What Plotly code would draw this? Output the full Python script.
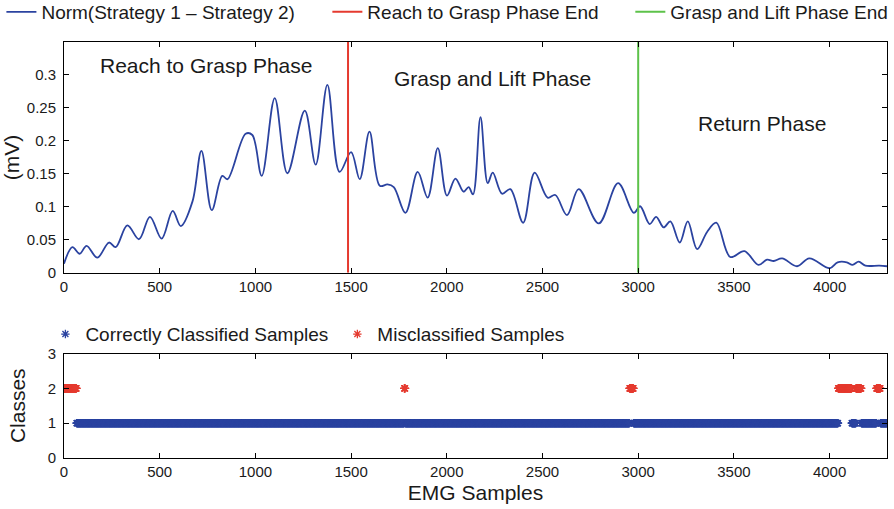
import numpy as np
import plotly.graph_objects as go

# --- data ------------------------------------------------------------------
# norm of the strategy difference (mV), peaks / troughs of the smooth curve
sample_idx = [
    0, 44, 82, 118, 174, 235, 270, 331, 392, 449, 510, 568, 610, 671, 718,
    772, 827, 854, 949, 984, 1033, 1101, 1167, 1258, 1315, 1376, 1440, 1500,
    1545, 1596, 1650, 1690, 1723, 1784, 1848, 1900, 1953, 2001, 2045, 2088,
    2114, 2137, 2176, 2214, 2240, 2289, 2332, 2399, 2459, 2527, 2567, 2628,
    2689, 2794, 2895, 2977, 3010, 3060, 3094, 3133, 3168, 3217, 3259, 3308,
    3360, 3408, 3481, 3555, 3629, 3673, 3708, 3752, 3830, 3894, 4000, 4042,
    4090, 4120, 4152, 4187, 4260, 4300,
]
norm_mv = [
    0.014, 0.039, 0.029, 0.041, 0.023, 0.046, 0.039, 0.072, 0.051, 0.085,
    0.052, 0.094, 0.071, 0.108, 0.185, 0.095, 0.147, 0.142, 0.211, 0.209,
    0.147, 0.265, 0.151, 0.246, 0.164, 0.285, 0.153, 0.183, 0.142, 0.214,
    0.132, 0.134, 0.130, 0.091, 0.153, 0.114, 0.189, 0.117, 0.143, 0.123,
    0.130, 0.119, 0.236, 0.136, 0.152, 0.120, 0.127, 0.076, 0.152, 0.114,
    0.118, 0.0875, 0.127, 0.075, 0.136, 0.091, 0.101, 0.074, 0.085, 0.069,
    0.078, 0.046, 0.078, 0.036, 0.062, 0.076, 0.024, 0.033, 0.012, 0.020,
    0.018, 0.022, 0.010, 0.022, 0.007, 0.016, 0.016, 0.012, 0.017, 0.011,
    0.011, 0.010,
]
reach_end = 1484
lift_end = 3000

n_samples = 4300
correct_class = 1
wrong_class = 2
# sample ranges that were misclassified
misclassified_ranges = [
    (0, 65), (1778, 1782), (2955, 2975), (4045, 4115), (4138, 4165), (4245, 4265),
]

phase_labels = ["Reach to Grasp Phase", "Grasp and Lift Phase", "Return Phase"]
phase_x = [740, 2241, 3649]
phase_y = [0.314, 0.295, 0.226]

x_ticks = [0, 500, 1000, 1500, 2000, 2500, 3000, 3500, 4000]
mv_ticks = [0, 0.05, 0.1, 0.15, 0.2, 0.25, 0.3]
class_ticks = [0, 1, 2, 3]

# --- styling ---------------------------------------------------------------
BLUE = "#2b43a0"
RED = "#e53a2f"
GREEN = "#5dc24a"
FONT = "Liberation Sans, Arial, Helvetica, sans-serif"
INK = "#1a1a1a"

samples = np.arange(n_samples + 1)
wrong = np.zeros(samples.size, dtype=bool)
for start, stop in misclassified_ranges:
    wrong[(samples >= start) & (samples <= stop)] = True

fig = go.Figure()
fig.add_trace(go.Scatter(
    x=sample_idx, y=norm_mv, mode="lines", line=dict(color=BLUE, width=1.8, shape="spline", smoothing=1.0),
    name="Norm(Strategy 1 \u2013 Strategy 2)", legend="legend",
))
fig.add_trace(go.Scatter(
    x=[reach_end, reach_end], y=[0, 0.35], mode="lines", line=dict(color=RED, width=2),
    name="Reach to Grasp Phase End", legend="legend2",
))
fig.add_trace(go.Scatter(
    x=[lift_end, lift_end], y=[0, 0.35], mode="lines", line=dict(color=GREEN, width=2),
    name="Grasp and Lift Phase End", legend="legend3",
))
fig.add_trace(go.Scatter(
    x=samples[~wrong], y=np.full((~wrong).sum(), correct_class), mode="markers",
    marker=dict(symbol="asterisk-open", size=7, color=BLUE, line=dict(width=1.3, color=BLUE)),
    name="Correctly Classified Samples", legend="legend4", xaxis="x2", yaxis="y2",
))
fig.add_trace(go.Scatter(
    x=samples[wrong], y=np.full(wrong.sum(), wrong_class), mode="markers",
    marker=dict(symbol="asterisk-open", size=7, color=RED, line=dict(width=1.3, color=RED)),
    name="Misclassified Samples", legend="legend5", xaxis="x2", yaxis="y2",
))

for label, px, py in zip(phase_labels, phase_x, phase_y):
    fig.add_annotation(x=px, y=py, xref="x", yref="y", text=label, showarrow=False,
                       font=dict(size=21, color=INK, family=FONT))

axis_common = dict(
    showline=True, linecolor="black", linewidth=1, mirror="ticks", ticks="inside",
    ticklen=5, tickcolor="black", showgrid=False, zeroline=False,
    tickfont=dict(size=15, color=INK, family=FONT),
)
title_font = dict(size=21, color=INK, family=FONT)


def legend_at(x, y):
    return dict(x=x, y=y, xanchor="left", yanchor="middle", orientation="h",
                bgcolor="rgba(0,0,0,0)", font=dict(size=19, color=INK, family=FONT),
                itemclick=False, itemdoubleclick=False)


# paper coords: plot area spans px 63.6..886.7 horizontally, 42..457.7 vertically
PW = 886.7 - 63.6
PH = 457.7 - 42


def px_x(p):
    return (p - 63.6) / PW


def px_y(p):
    return (457.7 - p) / PH


fig.update_layout(
    width=894, height=509,
    margin=dict(l=63.6, r=894 - 886.7, t=42, b=509 - 457.7, autoexpand=False),
    paper_bgcolor="white", plot_bgcolor="white",
    font=dict(family=FONT, color=INK),
    showlegend=True,
    xaxis=dict(axis_common, domain=[0, 1], range=[0, n_samples], tickvals=x_ticks, anchor="y"),
    yaxis=dict(axis_common, domain=[px_y(272.7), 1], range=[0, 0.35], tickvals=mv_ticks,
               ticklabelstandoff=4, title=dict(text="(mV)", font=title_font, standoff=2)),
    xaxis2=dict(axis_common, domain=[0, 1], range=[0, n_samples], tickvals=x_ticks, anchor="y2",
                title=dict(text="EMG Samples", font=title_font, standoff=6)),
    yaxis2=dict(axis_common, domain=[0, px_y(353.3)], range=[0, 3], tickvals=class_ticks,
                ticklabelstandoff=4, title=dict(text="Classes", font=title_font, standoff=16)),
    legend=legend_at(px_x(1), px_y(12)),
    legend2=legend_at(px_x(327), px_y(12)),
    legend3=legend_at(px_x(630), px_y(12)),
    legend4=legend_at(px_x(45), px_y(334)),
    legend5=legend_at(px_x(337), px_y(334)),
)

fig.write_html("out.html", config={"displayModeBar": False},
               post_script="document.body.style.margin = '0';")
